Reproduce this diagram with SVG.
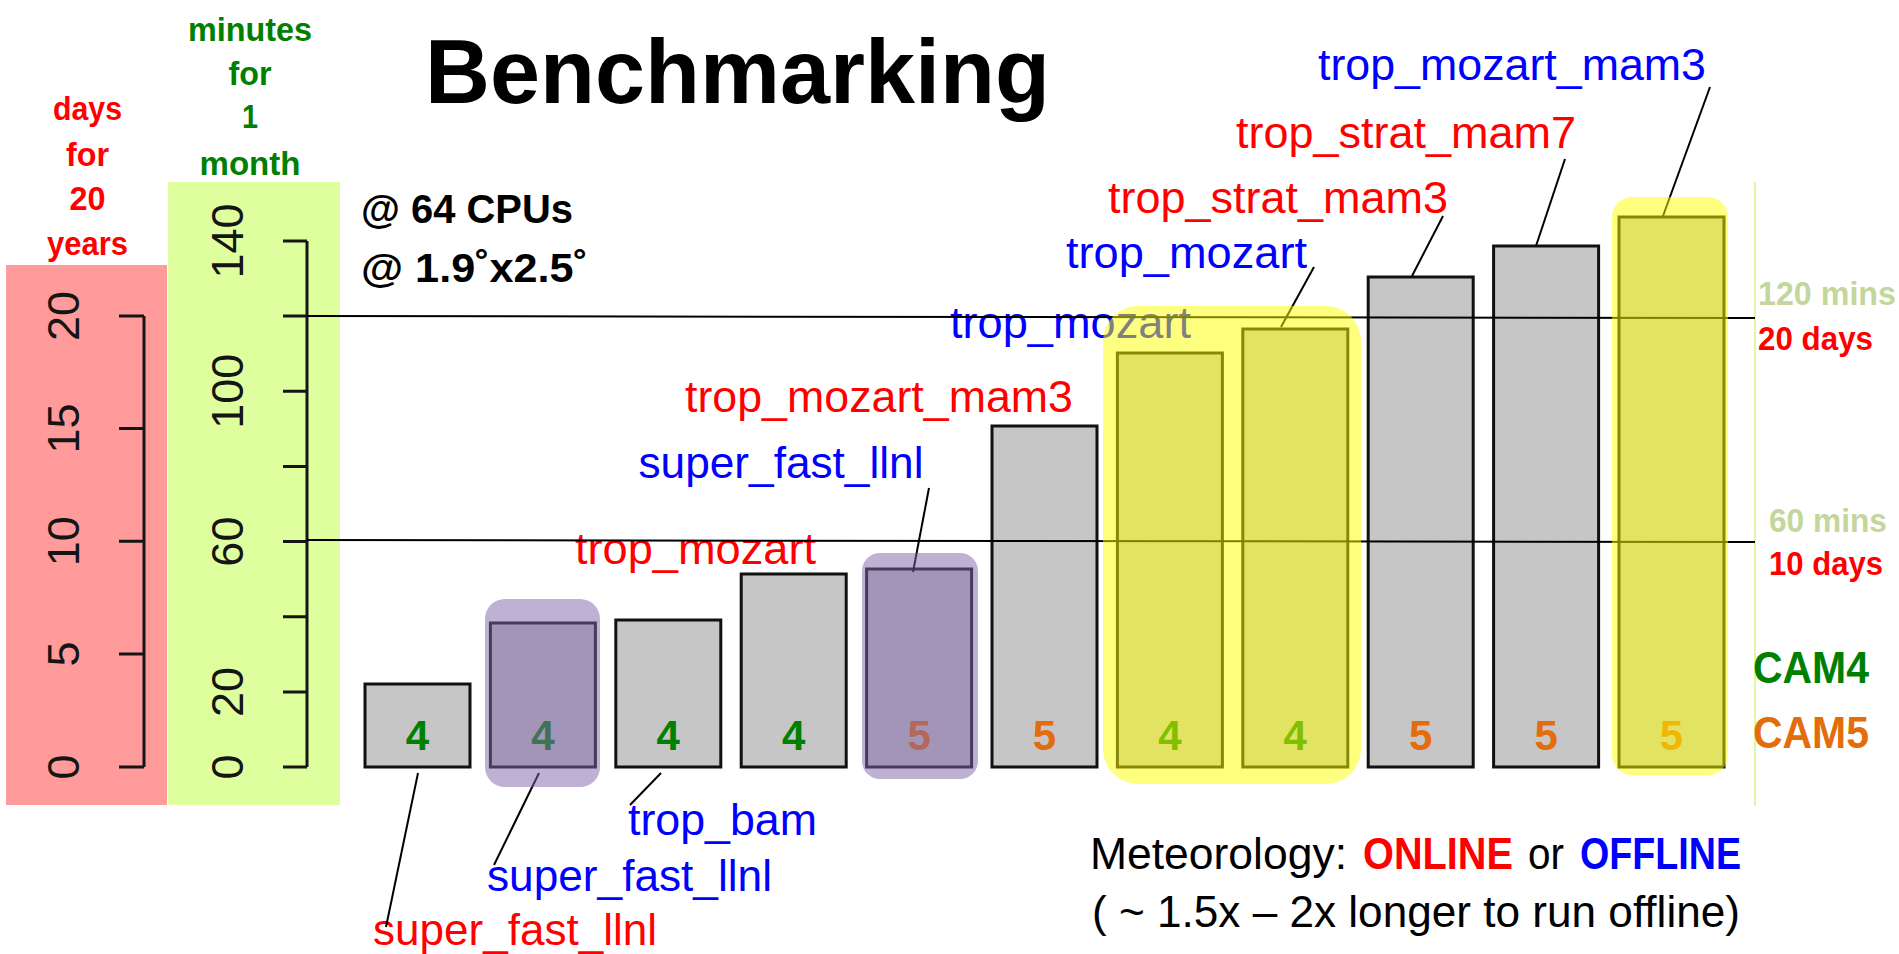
<svg xmlns="http://www.w3.org/2000/svg" width="1899" height="954" viewBox="0 0 1899 954">
  <style>
    text { font-family: "Liberation Sans", Arial, sans-serif; }
    .b { font-weight: bold; }
    .red { fill: #ff0000; }
    .blue { fill: #0000ff; }
    .green { fill: #008000; }
    .orange { fill: #e46c0a; }
    .pale { fill: #c3d69b; }
    .ink { fill: #000000; }
    .lbl { font-size: 44px; }
    .num { font-size: 42px; font-weight: bold; text-anchor: middle; }
    .side { font-size: 33px; font-weight: bold; }
    .head { font-size: 34px; font-weight: bold; text-anchor: middle; }
    .tick { font-size: 45px; fill: #151515; text-anchor: middle; }
    .axis { stroke: #151515; stroke-width: 3; fill: none; }
    .bar { fill: #c6c6c6; stroke: #111111; stroke-width: 3; }
    .guide { stroke: #000000; stroke-width: 2; }
    .lead { stroke: #000000; stroke-width: 2; fill: none; }
    .hl-purple { fill: #7f63a9; fill-opacity: 0.5; }
    .hl-yellow { fill: #ffff00; fill-opacity: 0.5; }
  </style>

  <rect width="1899" height="954" fill="#ffffff"/>

  <!-- axis backgrounds -->
  <rect x="6" y="265" width="161" height="540" fill="#ff9b9b"/>
  <rect x="168" y="182" width="172" height="623" fill="#dfff9f"/>
  <line x1="1755" y1="182" x2="1755" y2="806" stroke="#e0f7a6" stroke-width="2"/>

  <!-- column headings -->
  <g id="heading-days">
    <text class="head red" x="87.5" y="120" textLength="69" lengthAdjust="spacingAndGlyphs">days</text>
    <text class="head red" x="87.5" y="166" textLength="43" lengthAdjust="spacingAndGlyphs">for</text>
    <text class="head red" x="87.5" y="210" textLength="36" lengthAdjust="spacingAndGlyphs">20</text>
    <text class="head red" x="87.5" y="255" textLength="81" lengthAdjust="spacingAndGlyphs">years</text>
  </g>
  <g id="heading-minutes">
    <text class="head green" x="250" y="41" textLength="124" lengthAdjust="spacingAndGlyphs">minutes</text>
    <text class="head green" x="250" y="85" textLength="43" lengthAdjust="spacingAndGlyphs">for</text>
    <text class="head green" x="250" y="128" textLength="16" lengthAdjust="spacingAndGlyphs">1</text>
    <text class="head green" x="250" y="175" textLength="101" lengthAdjust="spacingAndGlyphs">month</text>
  </g>

  <!-- title and run settings -->
  <text id="title" class="b ink" x="425" y="103" font-size="91" textLength="625" lengthAdjust="spacingAndGlyphs">Benchmarking</text>
  <g id="settings">
    <text class="b ink" x="361" y="223" font-size="40" textLength="212" lengthAdjust="spacingAndGlyphs">@ 64 CPUs</text>
    <text class="b ink" x="361" y="282" font-size="40" textLength="227" lengthAdjust="spacingAndGlyphs">@ 1.9˚x2.5˚</text>
  </g>

  <!-- days axis (0-20) -->
  <g id="axis-days">
    <path class="axis" d="M144 316 V767 M119 316 H144 M119 428.4 H144 M119 541.3 H144 M119 654.1 H144 M119 767 H144"/>
    <text class="tick" transform="translate(79,767) rotate(-90)">0</text>
    <text class="tick" transform="translate(79,654.1) rotate(-90)">5</text>
    <text class="tick" transform="translate(79,541.3) rotate(-90)">10</text>
    <text class="tick" transform="translate(79,428.4) rotate(-90)">15</text>
    <text class="tick" transform="translate(79,316) rotate(-90)">20</text>
  </g>

  <!-- minutes axis (0-140) -->
  <g id="axis-minutes">
    <path class="axis" d="M307 241 V767 M283 241 H307 M283 316.1 H307 M283 391.3 H307 M283 466.4 H307 M283 541.6 H307 M283 616.7 H307 M283 691.9 H307 M283 767 H307"/>
    <text class="tick" transform="translate(243,767) rotate(-90)">0</text>
    <text class="tick" transform="translate(243,691.9) rotate(-90)">20</text>
    <text class="tick" transform="translate(243,541.6) rotate(-90)">60</text>
    <text class="tick" transform="translate(243,391.3) rotate(-90)">100</text>
    <text class="tick" transform="translate(243,241) rotate(-90)">140</text>
  </g>

  <!-- bars with CAM version and run name -->
  <g id="bar-1">
    <rect class="bar" x="365" y="684" width="105" height="83"/>
    <text class="num green" x="417.5" y="750">4</text>
    <text class="lbl red" x="373" y="945" textLength="284" lengthAdjust="spacingAndGlyphs">super_fast_llnl</text>
  </g>
  <g id="bar-2">
    <rect class="bar" x="490.4" y="623" width="105" height="144"/>
    <text class="num green" x="542.9" y="750">4</text>
    <text class="lbl blue" x="487" y="891" textLength="285" lengthAdjust="spacingAndGlyphs">super_fast_llnl</text>
  </g>
  <g id="bar-3">
    <rect class="bar" x="615.8" y="620" width="105" height="147"/>
    <text class="num green" x="668.3" y="750">4</text>
    <text class="lbl blue" x="628" y="835" textLength="189" lengthAdjust="spacingAndGlyphs">trop_bam</text>
  </g>
  <g id="bar-4">
    <rect class="bar" x="741.2" y="574" width="105" height="193"/>
    <text class="num green" x="793.7" y="750">4</text>
    <text class="lbl red" x="575" y="564" textLength="241" lengthAdjust="spacingAndGlyphs">trop_mozart</text>
  </g>
  <g id="bar-5">
    <rect class="bar" x="866.6" y="569" width="105" height="198"/>
    <text class="num orange" x="919.1" y="750">5</text>
    <text class="lbl blue" x="638.5" y="478" textLength="285" lengthAdjust="spacingAndGlyphs">super_fast_llnl</text>
  </g>
  <g id="bar-6">
    <rect class="bar" x="992" y="426" width="105" height="341"/>
    <text class="num orange" x="1044.5" y="750">5</text>
    <text class="lbl red" x="685" y="412" textLength="388" lengthAdjust="spacingAndGlyphs">trop_mozart_mam3</text>
  </g>
  <g id="bar-7">
    <rect class="bar" x="1117.4" y="353" width="105" height="414"/>
    <text class="num green" x="1169.9" y="750">4</text>
    <text class="lbl blue" x="950" y="338" textLength="241" lengthAdjust="spacingAndGlyphs">trop_mozart</text>
  </g>
  <g id="bar-8">
    <rect class="bar" x="1242.8" y="329" width="105" height="438"/>
    <text class="num green" x="1295.3" y="750">4</text>
    <text class="lbl blue" x="1066" y="268" textLength="241" lengthAdjust="spacingAndGlyphs">trop_mozart</text>
  </g>
  <g id="bar-9">
    <rect class="bar" x="1368.2" y="277" width="105" height="490"/>
    <text class="num orange" x="1420.7" y="750">5</text>
    <text class="lbl red" x="1108" y="213" textLength="340" lengthAdjust="spacingAndGlyphs">trop_strat_mam3</text>
  </g>
  <g id="bar-10">
    <rect class="bar" x="1493.6" y="246" width="105" height="521"/>
    <text class="num orange" x="1546.1" y="750">5</text>
    <text class="lbl red" x="1236" y="148" textLength="340" lengthAdjust="spacingAndGlyphs">trop_strat_mam7</text>
  </g>
  <g id="bar-11">
    <rect class="bar" x="1619" y="217" width="105" height="550"/>
    <text class="num orange" x="1671.5" y="750">5</text>
    <text class="lbl blue" x="1318" y="80" textLength="388" lengthAdjust="spacingAndGlyphs">trop_mozart_mam3</text>
  </g>

  <!-- reference levels: 120 min = 20 days, 60 min = 10 days -->
  <g id="guides">
    <line class="guide" x1="307" y1="316" x2="1755" y2="318"/>
    <line class="guide" x1="307" y1="540" x2="1755" y2="542"/>
  </g>

  <!-- leader lines from run names to bars -->
  <g id="connectors">
    <line class="lead" x1="418" y1="773" x2="386" y2="927"/>
    <line class="lead" x1="539" y1="773" x2="494" y2="865"/>
    <line class="lead" x1="661" y1="773" x2="630" y2="805"/>
    <line class="lead" x1="929" y1="488" x2="913" y2="572"/>
    <line class="lead" x1="1314" y1="267" x2="1281" y2="327"/>
    <line class="lead" x1="1443" y1="216" x2="1412" y2="276"/>
    <line class="lead" x1="1565" y1="159" x2="1536" y2="246"/>
    <line class="lead" x1="1710" y1="87" x2="1663" y2="216"/>
  </g>

  <!-- highlight boxes -->
  <g id="highlights">
    <rect class="hl-purple" x="485" y="599" width="115" height="188" rx="20"/>
    <rect class="hl-purple" x="862" y="553" width="116" height="226" rx="18"/>
    <rect class="hl-yellow" x="1103" y="306" width="258" height="478" rx="35"/>
    <rect class="hl-yellow" x="1612" y="197" width="116" height="578" rx="20"/>
  </g>

  <!-- right-hand level and model labels -->
  <g id="level-120">
    <text class="side pale" x="1758" y="305" textLength="138" lengthAdjust="spacingAndGlyphs">120 mins</text>
    <text class="side red" x="1758" y="350" textLength="115" lengthAdjust="spacingAndGlyphs">20 days</text>
  </g>
  <g id="level-60">
    <text class="side pale" x="1769" y="532" textLength="118" lengthAdjust="spacingAndGlyphs">60 mins</text>
    <text class="side red" x="1769" y="575" textLength="114" lengthAdjust="spacingAndGlyphs">10 days</text>
  </g>
  <g id="legend-cam">
    <text class="b green" x="1753" y="683" font-size="44" textLength="116" lengthAdjust="spacingAndGlyphs">CAM4</text>
    <text class="b orange" x="1753" y="748" font-size="44" textLength="116" lengthAdjust="spacingAndGlyphs">CAM5</text>
  </g>

  <!-- meteorology note -->
  <g id="note">
    <text class="ink" x="1090" y="869" font-size="44" textLength="257" lengthAdjust="spacingAndGlyphs">Meteorology:</text>
    <text class="b red" x="1363" y="869" font-size="44" textLength="150" lengthAdjust="spacingAndGlyphs">ONLINE</text>
    <text class="ink" x="1528" y="869" font-size="44" textLength="36" lengthAdjust="spacingAndGlyphs">or</text>
    <text class="b blue" x="1580" y="869" font-size="44" textLength="161" lengthAdjust="spacingAndGlyphs">OFFLINE</text>
    <text class="ink" x="1092" y="927" font-size="44" textLength="648" lengthAdjust="spacingAndGlyphs">( ~ 1.5x – 2x longer to run offline)</text>
  </g>
</svg>
